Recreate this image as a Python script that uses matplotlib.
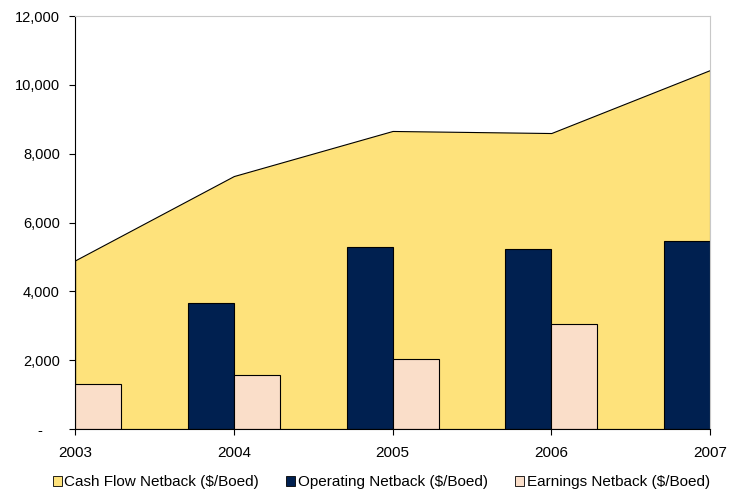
import matplotlib.pyplot as plt
from matplotlib.patches import Patch
from matplotlib.ticker import FuncFormatter

plt.rcParams['font.family'] = ['Liberation Sans', 'DejaVu Sans']

years = [2003, 2004, 2005, 2006, 2007]
cash_flow = [4900, 7350, 8660, 8600, 10430]

op_years = [2004, 2005, 2006, 2007]
operating = [3660, 5290, 5230, 5460]

earn_years = [2003, 2004, 2005, 2006]
earnings = [1310, 1570, 2030, 3050]

c_yellow = '#FEE27B'
c_navy = '#002050'
c_peach = '#FADEC9'

fig = plt.figure(figsize=(7.36, 4.93), dpi=100)
ax = fig.add_axes([0.102, 0.1298, 0.8627, 0.8377])

ax.fill_between(years, cash_flow, 0, facecolor=c_yellow, edgecolor='black',
                linewidth=0.8, zorder=1)

w = 0.29
ax.bar(op_years, operating, width=-w, align='edge', color=c_navy,
       edgecolor='black', linewidth=0.8, zorder=2)
ax.bar(earn_years, earnings, width=w, align='edge', color=c_peach,
       edgecolor='black', linewidth=0.8, zorder=2)

ax.set_xlim(2003, 2007)
ax.set_ylim(0, 12000)
ax.set_xticks(years)
ax.set_xticklabels([str(y) for y in years])
ax.set_yticks(range(0, 12001, 2000))
ax.yaxis.set_major_formatter(FuncFormatter(
    lambda v, p: '-    ' if v == 0 else f'{int(v):,}'))

ax.tick_params(axis='both', direction='out', length=4, width=0.8,
               colors='black')
ax.tick_params(axis='y', pad=7, labelsize=10.5)
ax.tick_params(axis='x', pad=8, labelsize=11)

for s in ['top', 'right']:
    ax.spines[s].set_color('#C8C8C8')
    ax.spines[s].set_linewidth(0.8)
for s in ['left', 'bottom']:
    ax.spines[s].set_color('black')
    ax.spines[s].set_linewidth(0.8)

handles = [
    Patch(facecolor=c_yellow, edgecolor='black', linewidth=0.6,
          label='Cash Flow Netback ($/Boed)'),
    Patch(facecolor=c_navy, edgecolor='black', linewidth=0.6,
          label='Operating Netback ($/Boed)'),
    Patch(facecolor=c_peach, edgecolor='black', linewidth=0.6,
          label='Earnings Netback ($/Boed)'),
]
fig.legend(handles=handles, loc='center', bbox_to_anchor=(0.518, 0.022),
           ncol=3, frameon=False, fontsize=11, handlelength=0.6,
           handleheight=0.6, handletextpad=0.15, columnspacing=1.8)

fig.savefig('out.png', dpi=100)
